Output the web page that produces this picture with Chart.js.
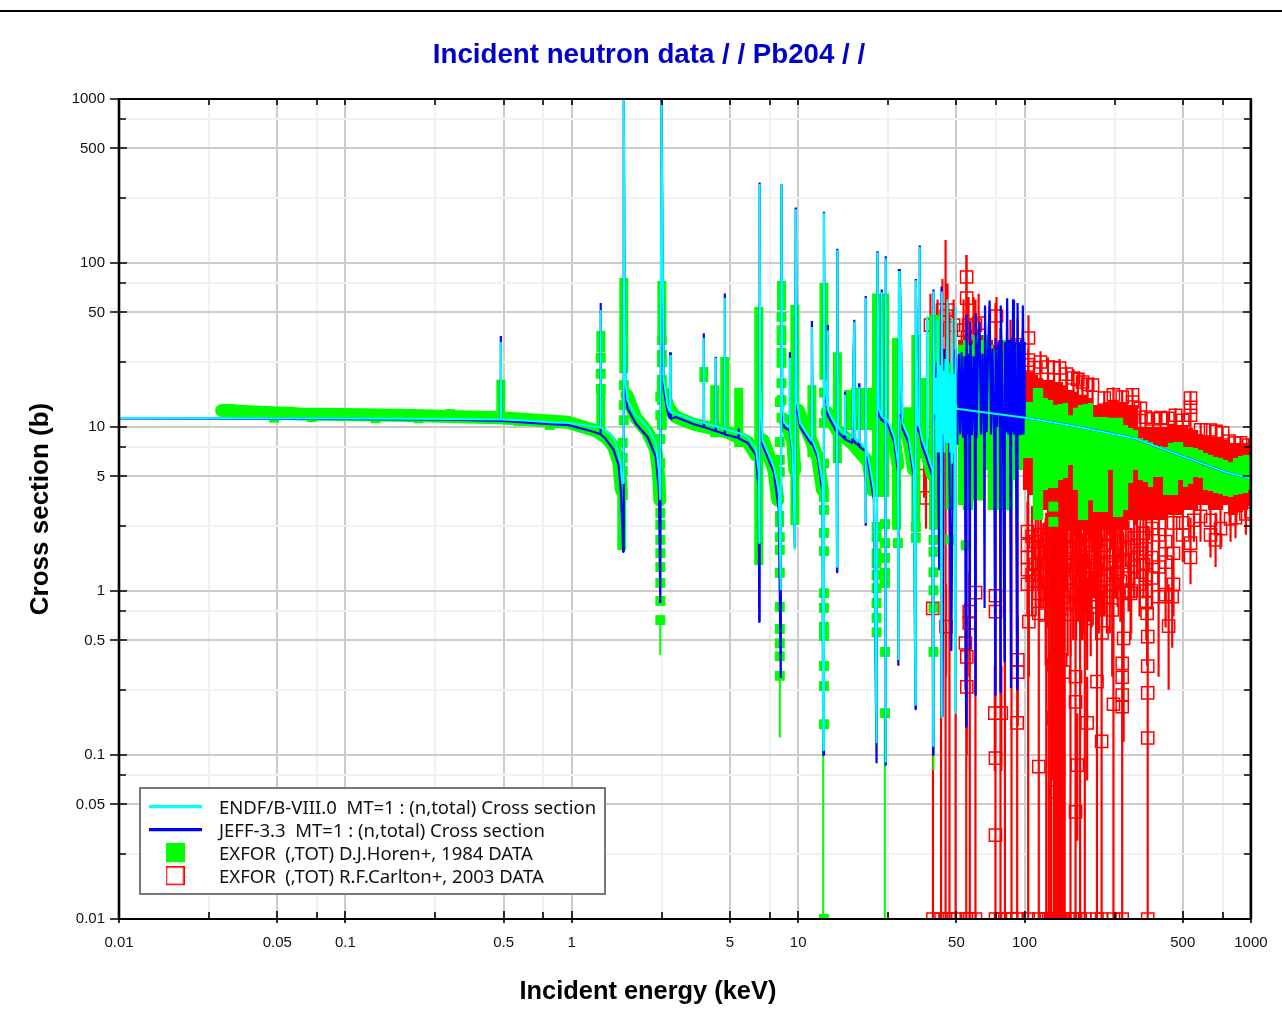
<!DOCTYPE html>
<html><head><meta charset="utf-8"><title>Pb204</title>
<script src="https://cdn.jsdelivr.net/npm/chart.js@4/dist/chart.umd.js"></script>
<style>html,body{margin:0;padding:0;background:#fff}canvas{display:block}</style></head>
<body><canvas id="c" width="1282" height="1014"></canvas>
<script>
const chartTitle='Incident neutron data / / Pb204 / /';
const xTitle='Incident energy (keV)';
const yTitle='Cross section (b)';
const legendNames=['ENDF/B-VIII.0  MT=1 : (n,total) Cross section','JEFF-3.3  MT=1 : (n,total) Cross section','EXFOR  (,TOT) D.J.Horen+, 1984 DATA','EXFOR  (,TOT) R.F.Carlton+, 2003 DATA'];
const tickValues=[0.01,0.025,0.05,0.075,0.1,0.25,0.5,0.75,1,2.5,5,7.5,10,25,50,75,100,250,500,750,1000];
const labelledTicks=[0.01,0.05,0.1,0.5,1,5,10,50,100,500,1000];

const endfE=[0.01,0.1,0.3,0.484,0.486,0.488,0.595,0.808,0.96,1.213,1.335,1.34,1.345,1.40,1.53,1.61,1.646,1.675,1.685,1.697,1.714,1.733,1.762,1.917,2.166,2.35,2.43,2.46,2.49,2.52,2.55,2.65,2.71,2.72,2.74,2.88,3.46,3.82,3.83,3.84,4.31,4.32,4.33,4.73,4.74,4.75,5.64,6.0,6.5,6.7,6.73,6.76,6.8,6.96,7.81,8.21,8.38,8.44,8.51,8.67,9.18,9.19,9.2,9.45,9.67,9.76,9.87,10.2,11.4,11.5,11.6,12.2,12.8,12.9,13.0,13.1,13.5,13.52,13.55,14.8,14.85,14.9,15,16.05,16.1,16.15,17.4,17.5,17.7,17.85,18.55,18.6,18.65,18.9,19.85,19.87,19.9,19.95,20.4,21.6,22.2,22.4,22.7,23.35,23.4,23.5,24.3,24.35,24.4,24.5,24.9,26.6,27.6,27.7,27.9,28.1,28.2,28.9,30.8,32.4,33.0,33.1,33.8,34.35,34.4,34.5,35.3,37.05,37.1,37.15,39.2,39.5,39.6,40,40.4,41,41.4,41.8,42.2,42.7,43,43.1,43.5,43.9,44.3,44.7,45.2,45.7,46.1,46.5,47,47.4,47.8,47.9,48.4,48.8,49.1,49.4,49.5,49.8,50.1,101,171,303,504,785,1000];
const endfS=[11.35,11.25,11.2,11.1,33,11.1,11.0,10.7,10.6,10.1,10.0,51.7,9.9,9.6,8.58,6.94,5.87,4.56,4.56,1200,39,18,14.6,11.8,10,7.98,5.25,3.58,946,120,19.4,13.3,12.3,27.5,12.2,12.1,11,10.6,34.9,10.6,10.1,26.4,10.1,9.7,61.1,9.7,9.06,8.66,7.43,5.25,1.96,303,19.4,8.33,5.7,4.13,1.01,303,14.6,10.6,10,26.4,9.9,7.25,1.78,213,14.6,10.6,8.33,40.7,8.2,6.94,4.56,0.107,202,19.4,12.7,38.9,12.6,10,1.4,120,10,9.06,15.7,9,8.58,19.4,43.8,8.4,8.2,17.5,8.1,7.98,7.5,2.6,61.1,7.45,6.57,4.13,0.118,116,13,11.6,66.5,11.5,11.2,0.09,107,11.1,11,8.66,6.03,0.38,89.5,12,71.4,10.6,8.66,5.47,0.202,78.6,10.3,10,125,9.9,8.33,6.94,46.9,6.9,5.47,0.113,67.3,12,20,7,45,7,24,6,0.17,67,9,22,7,26,8,60,8,21,7,22,6,46.2,7,21,6,0.18,53.9,14,12.9,11.4,10.05,8.58,6.6,5.27,4.85];

const jeffE=[0.01,0.1,0.3,0.484,0.486,0.488,0.595,0.808,0.96,1.213,1.335,1.34,1.345,1.40,1.53,1.61,1.646,1.675,1.685,1.697,1.714,1.733,1.762,1.917,2.166,2.35,2.43,2.46,2.49,2.52,2.55,2.65,2.71,2.72,2.74,2.88,3.46,3.82,3.83,3.84,4.31,4.32,4.33,4.73,4.74,4.75,5.45,5.46,5.47,6.0,6.5,6.7,6.73,6.76,6.8,6.96,7.81,8.21,8.38,8.44,8.51,8.67,9.18,9.19,9.2,9.45,9.67,9.76,9.87,10.2,11.4,11.5,11.6,12.2,12.8,12.9,13.0,13.1,13.5,13.52,13.55,14.8,14.85,14.9,15,16.05,16.1,16.15,17.4,17.5,17.7,17.85,18.55,18.6,18.65,19.85,19.87,19.9,19.95,20.4,21.6,22.2,22.4,22.7,23.35,23.4,23.5,24.3,24.35,24.4,24.5,24.9,26.6,27.6,27.7,27.9,28.1,28.2,28.9,30.8,32.4,33.0,33.1,33.8,34.35,34.4,34.5,35.3,37.05,37.1,37.15,39.2,39.5,39.6,40,41,41.5,42,43,43.4,44,45,45.8,46.5,47.5,48.5,49.6,50.4,51.2,52,52.7,53.5,54.3,55.2,55.4,56,56.9,57.3,57.6,58.6,59.5,60.3,60.7,60.9,61.4,62.3,63.3,64.2,65.2,66.2,66.6,66.9,68,69,70.1,71.1,72.2,73.4,74.3,74.5,75.6,76.7,77.9,78.3,78.5,79.1,80.3,81.6,81.8,82.8,83.8,84.6,85.4,86.3,87.1,87.3,88,89,89.8,90.7,91.6,92.7,92.9,93.4,94.2,95,95.8,96.5,97.3,98.3,99,99.6,100,100.3,171,303,504,785,1000];
const jeffS=[11.3,11.2,11.1,10.9,35.9,10.9,10.7,10.4,10.3,9.45,9.06,57,9,8.58,7.25,5.87,4.13,2.36,1.73,1250,35,16,13,10.5,8.66,6.57,4,0.845,1000,110,16.8,12.4,11.3,28.6,11.2,11.5,10.4,10,37.3,10,9.45,26.8,9.45,9.06,65.2,9,8.58,9.8,8.5,7.98,6.75,4.13,0.647,310,16,7.77,5.3,3.12,0.295,303,13,10,9.5,28.6,9.4,6.9,1.83,218,13,10,7.9,44.3,7.8,6.5,4,0.1,205,18,11.8,41.8,11.7,9.3,1.3,122,9.3,8.5,16.4,8.4,8,20,45,8,7.7,18.5,7.6,7.1,2.5,63,7,6,3.6,0.089,118,12,11,69,11,10.5,0.086,110,10.5,10.4,8,5.3,0.35,92,11.3,73,9.8,8,5,0.19,80,9.5,9.3,128,9.2,7.7,6.4,47,6.3,5,0.1,69,11,25,7,1.34,72,0.17,30,8,26,7,.43,24,30,7.8,28,9,28.6,8.6,27,0.148,48.3,9,28,0.437,43.7,8.9,27,9,0.232,49.6,8.6,30,43.7,9,28,8.3,0.788,55,9.3,29,59,9,30,8.6,0.232,34.9,10,33,9,0.24,55,33,8.9,0.37,33,9.3,61,9,34,8.6,0.256,34,9.3,60,9,33,8.9,0.25,34,57,9,33,8.9,34,9,55,9,33,30,11.4,10.05,8.58,6.6,5.27,4.85];

const horenTraceE=[0.0284,0.0635,0.176,0.486,0.96,1.343,null,1.343,1.428,1.533,1.613,1.655,null,1.75,1.917,2.166,2.35,2.42,2.45,null,2.55,2.68,2.88,3.46,4.88,6.0,6.5,null,7.0,7.81,8.13,null,8.73,9.45,9.67,null,10,11.4,12.2,12.8,null,13.4,14.8,17.6,20.4,21.3,null,22.7,26.6,27.6,null,29,30.8,32.4,null,35.3,37.1,39.2];
const horenTraceS=[12.6,12.0,11.8,11.4,10.7,9.3,null,9.06,8.58,7.56,6.1,4.13,null,15.7,11.4,9.3,7.25,5.1,3.58,null,16.1,13.1,11.5,10.4,9.3,8.1,6.75,null,8.33,5.47,3.58,null,11,8.33,5.47,null,12.7,8.33,6.48,4.13,null,12.3,9.59,7.77,6.1,4.13,null,9.6,8.33,5.87,null,10.3,8.33,5.47,null,8.33,6.75,5.1];

const horenColE=[0.486,1.343,1.343,1.697,1.663,2.5,3.83,4.28,4.74,5.46,6.7,8.44,8.27,9.67,11.5,13,14.9,16.7,17.9,19.2,20.4,22.2,24.1,27.2,30.6,33.1,35.3,39.6,41.4,47];
const horenColHi=[19.4,38.5,18,81,4.0,77.6,23.2,18,26.7,17.3,53.9,77.6,3.07,55.4,18,75.5,28.6,16.8,17.3,17.3,17.3,65.2,65.2,34.9,13.2,36.4,19.9,48.3,48.3,24.6];
const horenColLo=[11.8,28.6,8.66,21.3,1.78,36.4,18.8,8.66,9.2,7.56,1.44,51.7,2.46,2.53,6.57,19.4,6.03,9.59,9.59,9.59,9.59,3.74,3.74,2.36,8.66,2.36,7.98,2.36,2.36,3.12];

const horenE=[0.031,0.0484,0.057,0.071,0.098,0.136,0.17,0.21,0.29,0.39,0.52,0.58,0.8,1.343,1.343,1.343,1.697,1.697,1.697,1.68,1.68,1.68,1.68,2.5,2.5,2.5,2.5,2.5,2.5,2.5,2.5,2.46,2.46,2.46,2.46,2.46,2.46,2.46,2.46,2.46,2.46,2.46,2.46,2.46,2.46,8.44,8.44,8.44,8.44,8.44,8.44,8.44,8.44,8.3,8.3,8.3,8.3,8.3,8.3,8.3,8.3,8.3,8.3,8.3,8.3,13,13,13,13,13,13,13,13,13,13,13,13,13,13,13,22.2,22.2,22.2,22.2,22.2,22.2,22.2,22.2,22.2,24.2,24.2,24.2,24.2,24.2,24.2,24.2,27.6,33.1,33.1,39.6,39.6,39.6,39.6,39.6,39.6,47,55,134,134];
const horenS=[12.9,11.4,12.4,11.5,12.1,11.3,12,11.3,12,11.3,11.1,10.9,10.3,26.4,21.1,17.1,18,13.6,11,8,6.48,5.39,3.85,33.9,27.5,24.9,19.4,17.3,14.6,11.8,10.3,15.3,11.8,8.45,6.03,4.5,3.74,2.99,2.53,2.05,1.7,1.4,1.12,0.87,0.665,46.9,38.9,33.9,28.3,24.6,18.5,14.6,11.4,14.2,8.1,6.3,5.3,2.13,1.78,1.29,0.8,0.587,0.48,0.4,0.304,16.2,10.6,6,3.74,3.12,2.26,1.75,0.97,0.788,0.603,0.531,0.349,0.263,0.154,0.01,2.46,2.13,1.7,1.48,1.25,1.04,0.845,0.685,0.56,2.56,1.96,1.59,1.29,1.12,0.425,0.18,1.96,2.46,2.11,2.05,1.73,1.3,1.01,0.79,0.425,2.05,1.9,3.27,2.64];
const horenThinE=[2.46,8.3,12.9,24.15,39.6];
const horenThinLo=[0.407,0.128,0.01,0.01,0.081];
const horenThinHi=[0.665,0.304,0.154,0.18,0.113];

const bandE=[52.2,54.9,57.7,60.7,63.9,67.2,70.7,74.4,78.3,82.4,86.7,91.2,96,101,106.3,111.8,117.7,123.8,130.3,137,144.2,151.7,159.6,168,176.7,186,195.6,205.9,216.6,227.9,239.8,252.3,265.5,279.3,293.9,309.2,325.4,342.3,360.2,379,398.8,419.6,441.5,464.5,488.8,514.3,541.1,569.4,599.1,630.3,663.3,697.9,734.3,772.6,813,855.4,900,947,996.4];
const horenBandHi=[31.7,33.9,31.7,36.4,33.9,36.4,31.7,29.5,23.9,33.9,29.5,31.7,31.7,14.2,14.2,17.3,17.3,15,14.6,13.6,13.8,14,11.8,13.1,13.6,13.8,14,11.5,11.5,11.5,11.4,11.4,11.4,10.3,9.86,9.59,8.58,8.33,8.1,7.77,7.66,7.56,7.98,8.1,8.1,7.56,7.56,7.45,7.25,6.95,6.75,6.57,6.48,6.3,6.1,6.48,6.66,6.75,6.75];
const horenBandLo=[3.34,3.12,3.12,3.58,3.58,5.47,3.12,3.12,3.12,3.12,3.12,4.75,5.47,6.48,6.48,2.71,2.71,4.13,4.25,4.25,4.75,4.89,5.87,4.13,2.71,2.71,3.58,3.03,3.03,3.03,5.47,2.83,2.83,3.12,4.56,5.47,4.75,4.62,4.3,4.96,4.96,3.85,3.85,3.85,4.75,4.3,4.5,4.96,4.89,4.13,4.07,3.96,3.9,3.79,3.74,3.85,3.9,3.96,4.13];
const carltonBandHi=[33.9,36.4,33.9,39,36.4,36.4,33.9,31.7,33.9,31.7,31.7,31.7,31.7,21.7,21.7,20.8,19.9,19.4,19.4,18.8,18.8,18,16.8,16.4,15.7,15.7,15,13.6,13.6,14.2,14.6,14.6,14.2,14.2,13.6,13.6,10,10,10,10,10,10,10.3,10.3,10.3,10.3,9.86,9.59,9.06,8.79,8.79,8.66,8.58,8.33,7.98,7.98,7.98,7.98,7.98];
const carltonBandLo=[3.34,3.12,3.12,3.58,3.58,5.47,3.12,3.12,3.12,3.12,3.12,4.75,5.47,4.13,3.85,3.34,3.34,3.12,2.71,2.36,2.19,2.19,2.36,2.19,2.36,2.19,2.05,2.36,2.36,2.36,2.19,2.36,2.36,2.36,2.71,2.53,2.71,2.71,2.71,2.71,2.71,2.71,2.91,2.91,2.91,3.12,3.12,3.12,3.34,3.34,3.12,3.12,3.12,3.34,2.91,2.91,3.03,3.12,3.34];

const carltonDeepE=[39.4,42.8,44.8,46.6,49.6,55.3,57.3,60.7,74.4,78.3,81.9,87.6,92.8,103.8,115.6,124.7,128,131,134.7,136.5,138.2,140.5,142.5,144.5,146.5,148.5,150.5,159.6,168,176,184.6,209,219,247,270,350];
const carltonDeepHi=[5,30,138,50,9,112,30,45,57,40,30,35,30,30,2,3,2.5,3,3,3,3,3,3,3,3,3,3,3,3,3,3,2.5,2.5,2.5,2.5,2.5];

const carltonTop=[[45.1,47.5,15,60],[43.4,51.7,25,80],[45.7,51.7,25,75],[38.4,41.8,14,65],[41.3,39,13,60],[48.6,41.8,18,60],[53.8,39,12,60],[55.5,82.2,50,112],[55.5,61.1,35,85],[56.6,41.8,20,62],[59.5,40.7,20,62],[60.7,41.8,20,60],[62.7,43,22,65],[56,35.4,15,55],[75.2,47.5,25,62],[86.7,30.8,14,45],[93.1,31.7,14,46],[104.1,34.9,16,48],[104.1,25.6,12,36],[104.1,23.9,10,34],[117.7,24.9,12,29],[126.9,23.2,12,26.5],[142.8,22.9,13,26],[164.6,19.9,11,22.5],[180.4,18.8,10,21],[199.7,18,9,20],[247,15.7,8,17.5],[300,15.7,8,17.3],[300,14.2,8,16],[342,11.5,7,12.6],[399,11.4,7,12.5],[464.5,11.8,7,13],[541,15,8,16.5],[541,13.2,8,14.6],[541,11.8,7,13],[663,9.59,6,10.5],[750,9.2,6,10],[846,7.98,5.5,8.7],[978,7.77,5.5,8.5],[110,23,12,25.5],[135,23,12,25.5],[153,21,12,23.5],[172,19.5,11,21.5],[190,18.2,10,20],[225,15,9,16.5],[270,15.2,9,16.8],[325,13,8,14.3],[370,11.2,7,12.3],[430,11.3,7,12.4],[500,11,7,12.1],[600,9.6,6,10.5],[700,9.4,6,10.3],[800,8.2,5.5,9],[900,8,5.5,8.8],[36,6,3.7,9],[36.7,3.7,2.4,6]];

const carltonMid=[[599,2.85,2,4],[663,2.7,2,3.8],[663,2.2,1.6,3.2],[698,2.05,1.4,3],[734,2.4,1.8,3.4],[813,2.75,2,3.8],[855,2.8,2.1,3.8],[950,2.95,2.2,4],[1000,3.05,2.3,4],[541,1.6,1.1,2.4],[541,1.96,1.5,2.8],[103,2.3,1.6,3.5],[103,1.9,1.2,3],[103,1.6,1,2.6],[103,1.35,0.8,2.2],[103,1.1,0.7,1.8],[112,2,1.4,3],[112,1.45,0.9,2.4],[112,1.15,0.7,2],[118,2.2,1.5,3.2],[118,1.7,1.1,2.6],[118,1.25,0.8,2],[124,1.9,1.3,2.8],[124,1.3,0.8,2.1],[124,0.95,0.6,1.6],[131,2.4,1.7,3.3],[131,1.6,1,2.5],[131,1.05,0.65,1.7],[138,2,1.4,3],[138,1.35,0.85,2.1],[138,0.9,0.55,1.5],[145,1.8,1.2,2.7],[145,1.15,0.7,1.9],[145,0.78,0.45,1.3],[152,2.15,1.5,3.1],[152,1.5,1,2.3],[160,1.7,1.1,2.6],[160,1,0.6,1.7],[160,0.72,0.4,1.25],[169,2.05,1.4,3],[169,1.3,0.85,2],[169,0.82,0.5,1.4],[178,1.55,1,2.4],[178,1.1,0.7,1.8],[178,0.9,0.55,1.45],[188,1.9,1.3,2.8],[188,1.2,0.75,1.9],[198,1.6,1.05,2.4],[198,1,0.6,1.6],[207,2,1.4,2.9],[207,1.35,0.85,2.1],[207,0.86,0.5,1.4],[218,1.75,1.15,2.6],[218,1.15,0.7,1.8],[231,2.2,1.5,3.1],[231,1.45,0.95,2.2],[231,0.92,0.55,1.5],[246,1.65,1.05,2.4],[246,1.1,0.7,1.75],[258,2,1.4,2.9],[258,1.3,0.8,2],[272,1.5,1,2.3],[272,0.98,0.6,1.6],[288,1.85,1.25,2.7],[288,1.2,0.75,1.9],[305,2.1,1.45,3],[305,1.4,0.9,2.1],[322,1.7,1.1,2.5],[322,1.1,0.7,1.75],[345,2.5,1.8,3.4],[345,1.8,1.2,2.6],[345,1.25,0.8,1.9],[345,1,0.65,1.5],[345,0.85,0.5,1.3],[365,2.4,1.7,3.3],[365,1.6,1.05,2.4],[365,1.2,0.8,1.8],[392,2.2,1.5,3.1],[392,1.4,0.9,2.1],[420,2,1.4,2.9],[420,1.5,1,2.2],[420,0.95,0.6,1.5],[455,2.6,1.9,3.5],[455,1.7,1.15,2.5],[455,1.1,0.7,1.7],[500,2.6,1.9,3.5],[500,2.2,1.5,3.1],[560,2.7,2,3.6],
[108,2.15,1.3,3.3],[108,1.25,0.7,2],[115,1.75,1,2.8],[121,1.5,0.8,2.6],[127,2.1,1.3,3.2],[127,1.12,0.6,1.9],[134,1.75,1,2.8],[134,1.15,0.6,2],[141,2.3,1.5,3.3],[141,1.5,0.85,2.4],[141,1.02,0.5,1.7],[148,1.35,0.7,2.2],[148,0.92,0.45,1.6],[155,1.85,1.1,2.9],[155,1.2,0.65,2],[155,0.85,0.4,1.5],[164,2.2,1.4,3.2],[164,1.45,0.85,2.3],[164,0.95,0.5,1.6],[173,1.8,1.1,2.8],[173,1.15,0.65,1.9],[183,2.2,1.4,3.1],[183,1.4,0.85,2.2],[183,0.98,0.55,1.6],[193,1.7,1.05,2.6],[193,1.1,0.65,1.8],[203,1.5,0.9,2.4],[213,2.2,1.4,3.1],[213,1,0.55,1.7],[225,1.9,1.2,2.8],[225,1.25,0.7,2],[238,1.5,0.9,2.4],[238,1,0.55,1.7],[252,2.4,1.6,3.3],[252,1.5,0.9,2.3],[265,1.8,1.1,2.7],[265,1.15,0.65,1.85],[280,2.2,1.4,3.1],[296,1.55,0.95,2.4],[296,1,0.55,1.7],[314,1.9,1.2,2.8],[335,2.25,1.5,3.1],[335,1.45,0.9,2.2]];

const carltonLow=[[39.3,0.784,0.4,1.4],[45,0.606,0.3,1.1],[55.6,0.26,0.1,0.5],[55.6,0.397,0.2,0.7],[54.8,0.482,0.25,0.85],[57,0.638,0.3,1.1],[57,0.748,0.4,1.3],[60.8,0.977,0.5,1.7],[74.4,0.0958,0.04,0.2],[74.4,0.0325,0.015,0.07],[73.9,0.18,0.08,0.35],[79,0.18,0.08,0.35],[74.4,0.936,0.5,1.6],[74.4,0.748,0.4,1.3],[92.8,0.157,0.07,0.3],[93.4,0.38,0.2,0.7],[93.4,0.32,0.15,0.6],[104.5,0.65,0.3,1.2],[115.6,0.085,0.03,0.18],[115.6,0.968,0.5,1.7],[115.6,0.73,0.35,1.3],[124,0.714,0.35,1.3],[137,0.0596,0.02,0.13],[134,0.168,0.07,0.33],[134,0.354,0.17,0.65],[137,0.39,0.2,0.7],[144.5,0.38,0.18,0.7],[149,0.32,0.15,0.6],[168,0.045,0.015,0.1],[168,0.211,0.09,0.4],[168,0.3,0.14,0.55],[171,0.0868,0.03,0.18],[189,0.157,0.07,0.3],[209,0.28,0.13,0.5],[219,0.121,0.05,0.25],[220,0.555,0.28,1],[247,0.204,0.09,0.4],[270,0.197,0.07,0.4],[270,0.232,0.1,0.45],[270,0.298,0.13,0.55],[270,0.362,0.17,0.65],[274,0.514,0.12,0.9],[350,0.127,0.05,0.25],[350,0.239,0.1,0.45],[350,0.348,0.16,0.6],[350,0.527,0.25,0.9],[433,0.611,0.25,1.1],[449,0.923,0.45,1.6],[348,0.73,0.35,1.3],[391,0.923,0.3,1.6],[244,0.766,0.3,1.4],[294,0.968,0.5,1.7],[209,0.8,0.4,1.4],[189,0.68,0.33,1.2],[196,0.86,0.4,1.5],[180,0.97,0.5,1.7]];

function bars(E,Lo,Hi){const p=[];E.forEach((e,i)=>{p.push({x:e,y:Lo[i]},{x:e,y:Hi[i]},{x:e,y:null});});return p;}
function pts(E,S){return E.map((e,i)=>({x:e,y:S[i]}));}
function sample(kind){const c=document.createElement('canvas');const g=c.getContext('2d');
  if(kind==='cyan'||kind==='blue'){c.width=53;c.height=7;g.fillStyle=kind==='cyan'?'#00ffff':'#0000ff';g.fillRect(0,0,53,3);}
  else if(kind==='green'){c.width=19;c.height=23;g.fillStyle='#00ff00';g.fillRect(0,0,19,19);}
  else{c.width=19;c.height=23;g.strokeStyle='#ff0000';g.lineWidth=1.5;g.strokeRect(0.75,0.75,17.5,17.5);}
  return c;}
const samples=[sample('cyan'),sample('blue'),sample('green'),sample('red')];

const carltonRows=[...carltonTop,...carltonMid,...carltonLow];
const deepPts=carltonDeepE.map(e=>({x:e,y:0.01}));
const line=(o)=>Object.assign({showLine:true,pointRadius:0,spanGaps:false,tension:0,borderJoinStyle:'bevel',borderCapStyle:'butt',fill:false,clip:0},o);

const framePlugin={id:'frame',
  beforeDraw(chart){const g=chart.ctx;g.save();g.fillStyle='#fff';g.fillRect(0,0,chart.width,chart.height);g.strokeStyle='#000';g.lineWidth=2;g.beginPath();g.moveTo(0,11);g.lineTo(chart.width,11);g.stroke();g.restore();
    const xs=chart.scales.x;
    if(!xs._shifted){xs._shifted=true;const o=xs.drawTitle;xs.drawTitle=function(){const c=this.ctx;c.save();c.translate(-37,0);o.apply(this,arguments);c.restore();};}
  },
  afterLayout(chart){const l=chart.legend;
    l.left=135.75;l.right=604;l.top=795;l.bottom=893;
    const t=chart.titleBlock;t.left+=23.5;t.right+=23.5;
    if(!l._boxed){l._boxed=true;const o=l.draw;l.draw=function(){const c=this.ctx;c.save();c.fillStyle='#fff';c.strokeStyle='#777';c.lineWidth=2;c.fillRect(140,788,465,106);c.strokeRect(140,788,465,106);c.restore();o.apply(this,arguments);};}
  },
  afterDatasetsDraw(chart){const g=chart.ctx,a=chart.chartArea,xs=chart.scales.x,ys=chart.scales.y;g.save();g.strokeStyle='#000';g.lineWidth=1.6;g.beginPath();
    tickValues.forEach(v=>{const m=labelledTicks.includes(v);const X=Math.round(xs.getPixelForValue(v));const Y=Math.round(ys.getPixelForValue(v));const n=m?8:7,o=m?9:0;
      g.moveTo(X,a.bottom+(m?4:0));g.lineTo(X,a.bottom-n);g.moveTo(X,a.top);g.lineTo(X,a.top+6);
      g.moveTo(a.left-o,Y);g.lineTo(a.left+n,Y);g.moveTo(a.right,Y);g.lineTo(a.right-n,Y);});
    g.stroke();g.lineWidth=2;g.strokeRect(a.left,a.top,a.right-a.left,a.bottom-a.top);g.lineWidth=2.6;g.beginPath();g.moveTo(a.left,a.top);g.lineTo(a.left,a.bottom);g.moveTo(a.right,a.top);g.lineTo(a.right,a.bottom);g.stroke();g.restore();}
};
const isMajor=v=>labelledTicks.includes(v);
const axis=(titleText,titleOpts,size)=>({type:'logarithmic',min:0.01,max:1000,
  afterBuildTicks(s){s.ticks=tickValues.map(v=>({value:v,major:isMajor(v)}));},
  grid:{drawTicks:false,color:c=>isMajor(c.tick.value)?'#cccccc':'#f1f1f1',lineWidth:2},
  border:{display:false},
  title:Object.assign({display:true,text:titleText,color:'#000',font:{family:'"Liberation Sans"',weight:'bold',size:size,lineHeight:1.2}},titleOpts)});
const X=axis(xTitle,{padding:{top:0,bottom:7}},25.4);
X.position='bottom';X.afterFit=s=>{s.height=95;};
X.ticks={autoSkip:false,maxRotation:0,minRotation:0,padding:14.4,color:'#111',font:{family:'"Liberation Sans"',size:15},callback:v=>isMajor(v)?String(v):''};
const Y=axis(yTitle,{padding:{top:25.4,bottom:0}},26);
Y.position='left';Y.afterFit=s=>{s.width=119;};
Y.ticks={autoSkip:false,padding:14,color:'#111',font:{family:'"Liberation Sans"',size:15},callback:v=>isMajor(v)?String(v):''};

new Chart(document.getElementById('c'),{
  type:'scatter',
  data:{datasets:[
    line({label:legendNames[0],data:pts(endfE,endfS),borderColor:'#00ffff',borderWidth:2,order:0}),
    line({label:legendNames[1],data:pts(jeffE,jeffS),borderColor:'#0000ff',borderWidth:2.2,order:1}),
    {label:legendNames[2],data:pts(horenE,horenS),showLine:false,pointStyle:'rect',pointRadius:7,pointBorderWidth:0,backgroundColor:'#00ff00',borderColor:'#00ff00',clip:0,order:2},
    {label:legendNames[3],data:carltonRows.map(r=>({x:r[0],y:r[1]})).concat(deepPts),showLine:false,pointStyle:'rect',pointRadius:8.6,pointBorderWidth:1.5,backgroundColor:'rgba(0,0,0,0)',borderColor:'#ff0000',clip:0,order:7},
    line({label:'Horen uncertainty',data:bars(horenThinE,horenThinLo,horenThinHi),borderColor:'#00ff00',borderWidth:2,order:3}),
    line({label:'Horen stacked points',data:bars(horenColE,horenColLo,horenColHi),borderColor:'#00ff00',borderWidth:9,order:4}),
    line({label:'Horen tails',data:pts(horenTraceE,horenTraceS),borderColor:'#00ff00',borderWidth:13,borderCapStyle:'round',borderJoinStyle:'round',order:5}),
    line({label:'Horen high-energy scatter',data:bars(bandE,horenBandLo,horenBandHi),borderColor:'#00ff00',borderWidth:5.2,order:6}),
    line({label:'Carlton uncertainty',data:bars(carltonRows.map(r=>r[0]),carltonRows.map(r=>r[2]),carltonRows.map(r=>r[3])).concat(bars(carltonDeepE,carltonDeepE.map(()=>0.01),carltonDeepHi)),borderColor:'#ff0000',borderWidth:2.2,order:8}),
    line({label:'Carlton high-energy scatter',data:bars(bandE,carltonBandLo,carltonBandHi),borderColor:'#ff0000',borderWidth:5.2,order:9})
  ]},
  options:{responsive:false,animation:false,events:[],devicePixelRatio:1,
    layout:{padding:{left:0,right:31,top:0,bottom:0}},
    scales:{x:X,y:Y},
    plugins:{
      tooltip:{enabled:false},
      title:{display:true,text:chartTitle,color:'#0000cc',align:'center',font:{family:'"Liberation Sans"',weight:'bold',size:27.7,lineHeight:1.2},padding:{top:38.4,bottom:27.36}},
      legend:{display:true,position:'chartArea',align:'start',
        labels:{usePointStyle:true,pointStyleWidth:69.5,boxHeight:18.5,padding:4.5,color:'#111',font:{family:'"Noto Sans"',size:18.5,lineHeight:1.2},
          generateLabels:()=>legendNames.map((t,i)=>({text:t,pointStyle:samples[i],datasetIndex:i,hidden:false,lineWidth:0,fillStyle:'#000',strokeStyle:'#000',fontColor:'#111'}))}}
    }},
  plugins:[framePlugin]
});
</script></body></html>
